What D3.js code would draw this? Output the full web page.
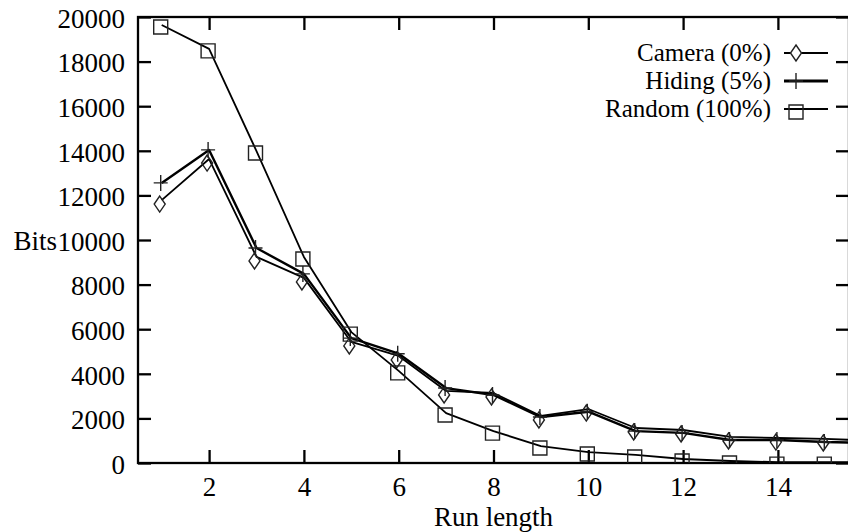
<!DOCTYPE html>
<html>
<head>
<meta charset="utf-8">
<script src="https://cdn.jsdelivr.net/npm/d3@7"></script>
<style>
  body { margin: 0; background: #fff; }
</style>
</head>
<body>
<div id="chart"></div>
<script>
// ***** values *****
var runLength = [1, 2, 3, 4, 5, 6, 7, 8, 9, 10, 11, 12, 13, 14, 15, 16];
var camera = [11790, 13630, 9240, 8300, 5430, 4800, 3230, 3140, 2110, 2420, 1570, 1480, 1170, 1120, 1080, 1000];
var hiding = [12560, 14040, 9640, 8480, 5600, 4900, 3360, 3050, 2060, 2300, 1430, 1350, 1030, 1030, 940, 900];
var random = [19640, 18570, 13990, 9240, 5870, 4130, 2240, 1430, 760, 490, 360, 180, 90, 40, 40, 30];
var seriesNames = ["Camera (0%)", "Hiding (5%)", "Random (100%)"];
var xTicks = [2, 4, 6, 8, 10, 12, 14];
var yTicks = [0, 2000, 4000, 6000, 8000, 10000, 12000, 14000, 16000, 18000, 20000];

var FONT = "'Liberation Serif', 'Times New Roman', 'DejaVu Serif', serif";

function lineChart(){
  // frame of the plot in page pixels
  var margin = {top: 17, right: 0, bottom: 69, left: 138},
      width = 849 - margin.left,
      height = 532 - margin.top - margin.bottom;

  var x = d3.scaleLinear().domain([0.5, 15.5]).range([0, width]);
  var y = d3.scaleLinear().domain([0, 20000]).range([height, 0]);

  var svg = d3.select("#chart").append("svg")
      .attr("width", 848)
      .attr("height", 532)
      .attr("font-family", FONT)
      .attr("font-size", 27)
    .append("g")
      .attr("transform", "translate(" + margin.left + "," + margin.top + ")");

  svg.append("clipPath").attr("id", "plotClip")
    .append("rect").attr("x", 0).attr("y", 0).attr("width", width).attr("height", height);

  // axes, gnuplot style: ticks inside the frame and mirrored
  var yAxis = svg.append("g")
      .call(d3.axisLeft(y).tickValues(yTicks).tickFormat(d3.format("d")).tickSize(-13).tickPadding(13));
  var xAxis = svg.append("g")
      .attr("transform", "translate(0," + height + ")")
      .call(d3.axisBottom(x).tickValues(xTicks).tickFormat(d3.format("d")).tickSize(-13).tickPadding(14));
  var topAxis = svg.append("g")
      .call(d3.axisTop(x).tickValues(xTicks).tickSize(-13).tickFormat(""));
  var rightAxis = svg.append("g")
      .attr("transform", "translate(" + width + ",0)")
      .call(d3.axisRight(y).tickValues(yTicks).tickSize(-13).tickFormat(""));

  [yAxis, xAxis, topAxis, rightAxis].forEach(function(a){
    a.attr("font-family", FONT).attr("font-size", 27);
    a.select(".domain").remove();
    a.selectAll("line").attr("stroke", "#000").attr("stroke-width", 2.3);
    a.selectAll("text").attr("fill", "#000");
  });
  yAxis.selectAll("text").attr("dy", "0.38em");

  svg.append("rect")
      .attr("width", width).attr("height", height)
      .attr("fill", "none").attr("stroke", "#000").attr("stroke-width", 2.3);

  // axis titles
  svg.append("text")
      .attr("x", 57 - margin.left)
      .attr("y", y(10000))
      .attr("dy", "0.38em")
      .style("text-anchor", "end")
      .text("Bits");
  svg.append("text")
      .attr("x", x(8))
      .attr("y", height + 63)
      .style("text-anchor", "middle")
      .text("Run length");

  var diamond = "M0,-8L5.5,0L0,8L-5.5,0Z";
  var square = "M-7,-7H7V7H-7Z";
  var plus = "M-7,0H7M0,-8V8";

  var series = [
    {name: seriesNames[0], values: camera, marker: diamond, width: 1.8, dx: -2, dy: 4},
    {name: seriesNames[1], values: hiding, marker: plus, width: 2.4, dx: -1, dy: 0},
    {name: seriesNames[2], values: random, marker: square, width: 1.8, dx: -1, dy: 2}
  ];

  var line = d3.line()
      .x(function(d, i){ return x(runLength[i]); })
      .y(function(d){ return y(d); });

  var plot = svg.append("g").attr("clip-path", "url(#plotClip)");

  series.forEach(function(s){
    plot.append("path")
        .datum(s.values)
        .attr("d", line)
        .attr("fill", "none")
        .attr("stroke", "#000")
        .attr("stroke-width", s.width)
        .attr("stroke-linejoin", "round");

    plot.selectAll(null)
        .data(s.values)
        .enter().append("path")
        .attr("d", s.marker)
        .attr("transform", function(d, i){ return "translate(" + (x(runLength[i]) + s.dx) + "," + (y(d) + s.dy) + ")"; })
        .attr("fill", "none")
        .attr("stroke", "#222")
        .attr("stroke-width", 1.4);
  });

  // legend, top right
  var legend = svg.append("g")
      .attr("font-size", 25)
      .attr("transform", "translate(" + (771 - margin.left) + "," + (53 - margin.top) + ")");
  series.forEach(function(s, i){
    var row = legend.append("g").attr("transform", "translate(0," + (i * 28) + ")");
    row.append("text")
        .attr("x", 0).attr("y", 0).attr("dy", "0.33em")
        .style("text-anchor", "end")
        .text(s.name);
    row.append("line")
        .attr("x1", 13).attr("x2", 57).attr("y1", 0).attr("y2", 0)
        .attr("stroke", "#000").attr("stroke-width", s.width + 0.4);
    row.append("path")
        .attr("d", s.marker)
        .attr("transform", "translate(25," + (i == 2 ? 3 : 0) + ")")
        .attr("fill", i == 0 ? "#fff" : "none")
        .attr("stroke", "#222")
        .attr("stroke-width", 1.4);
  });
}

lineChart();
</script>
</body>
</html>
